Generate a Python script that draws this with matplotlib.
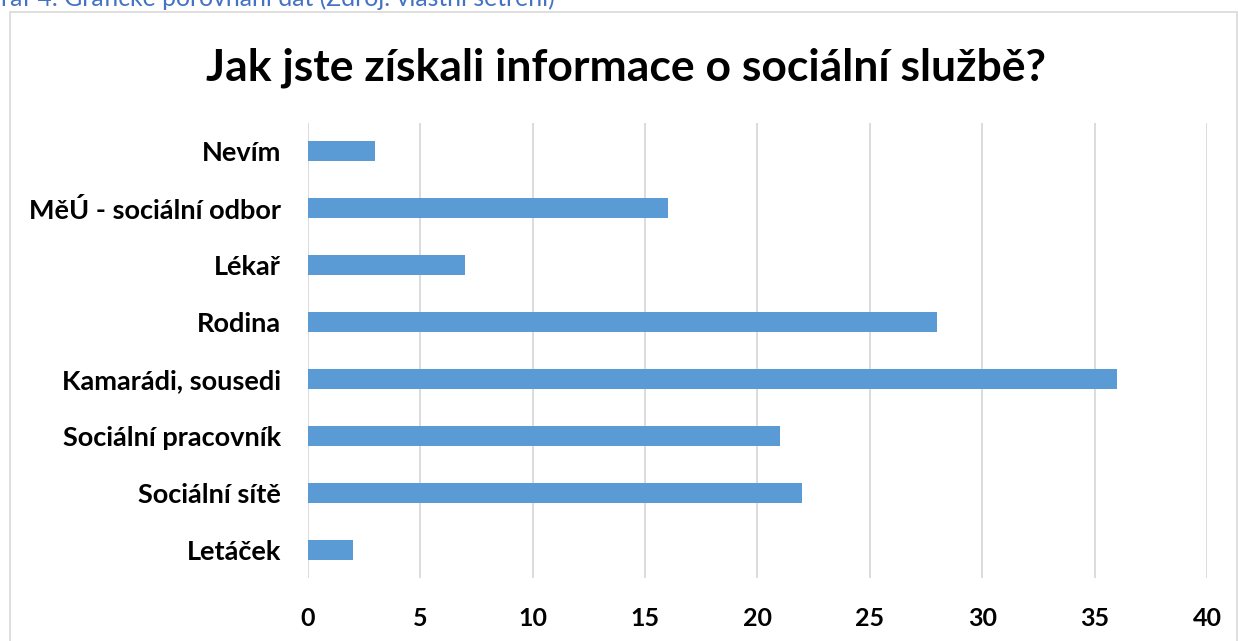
import matplotlib
matplotlib.use("Agg")
import matplotlib.pyplot as plt
from matplotlib.patches import Rectangle

categories = ["Letáček", "Sociální sítě", "Sociální pracovník", "Kamarádi, sousedi",
              "Rodina", "Lékař", "MěÚ - sociální odbor", "Nevím"]
values = [2, 22, 21, 36, 28, 7, 16, 3]
xticks = [0, 5, 10, 15, 20, 25, 30, 35, 40]
title = "Jak jste získali informace o sociální službě?"
caption = "Graf 4: Grafické porovnání dat (Zdroj: vlastní šetření)"

plt.rcParams['font.family'] = ['Lato', 'DejaVu Sans']

W, H = 1238, 641
fig = plt.figure(figsize=(W / 100, H / 100), dpi=100)
ax = fig.add_axes([308 / W, 1 - 578 / H, (1207 - 308) / W, (578 - 123) / H])

# chart border
fig.patches.append(Rectangle((10 / W, -0.05), (1237 - 10) / W, 1.05 - 12 / H,
                             transform=fig.transFigure, fill=False,
                             edgecolor="#D9D9D9", linewidth=1.2))

ax.barh(range(len(categories)), values, height=0.35, color="#5B9BD5", zorder=3)
ax.set_ylim(-0.5, len(categories) - 0.5)
ax.set_xlim(0, 40)
ax.set_xticks(xticks)
ax.set_xticklabels([str(t) for t in xticks], fontsize=18, fontweight="bold")
ax.set_yticks(range(len(categories)))
ax.set_yticklabels(categories, fontsize=19.5, fontweight="bold")
ax.tick_params(axis="both", length=0)
ax.tick_params(axis="x", pad=21)
ax.tick_params(axis="y", pad=19.5)
ax.grid(axis="x", color="#D9D9D9", linewidth=1.3, zorder=0)
for s in ax.spines.values():
    s.set_visible(False)

fig.text(626 / W, 1 - 68 / H, title, ha="center", va="center",
         fontsize=32, fontweight="bold")
fig.text(555 / W, 1 - 6 / H, caption, ha="right", va="baseline",
         fontsize=17.8, color="#4472C4")

fig.savefig("out.png", dpi=100)
